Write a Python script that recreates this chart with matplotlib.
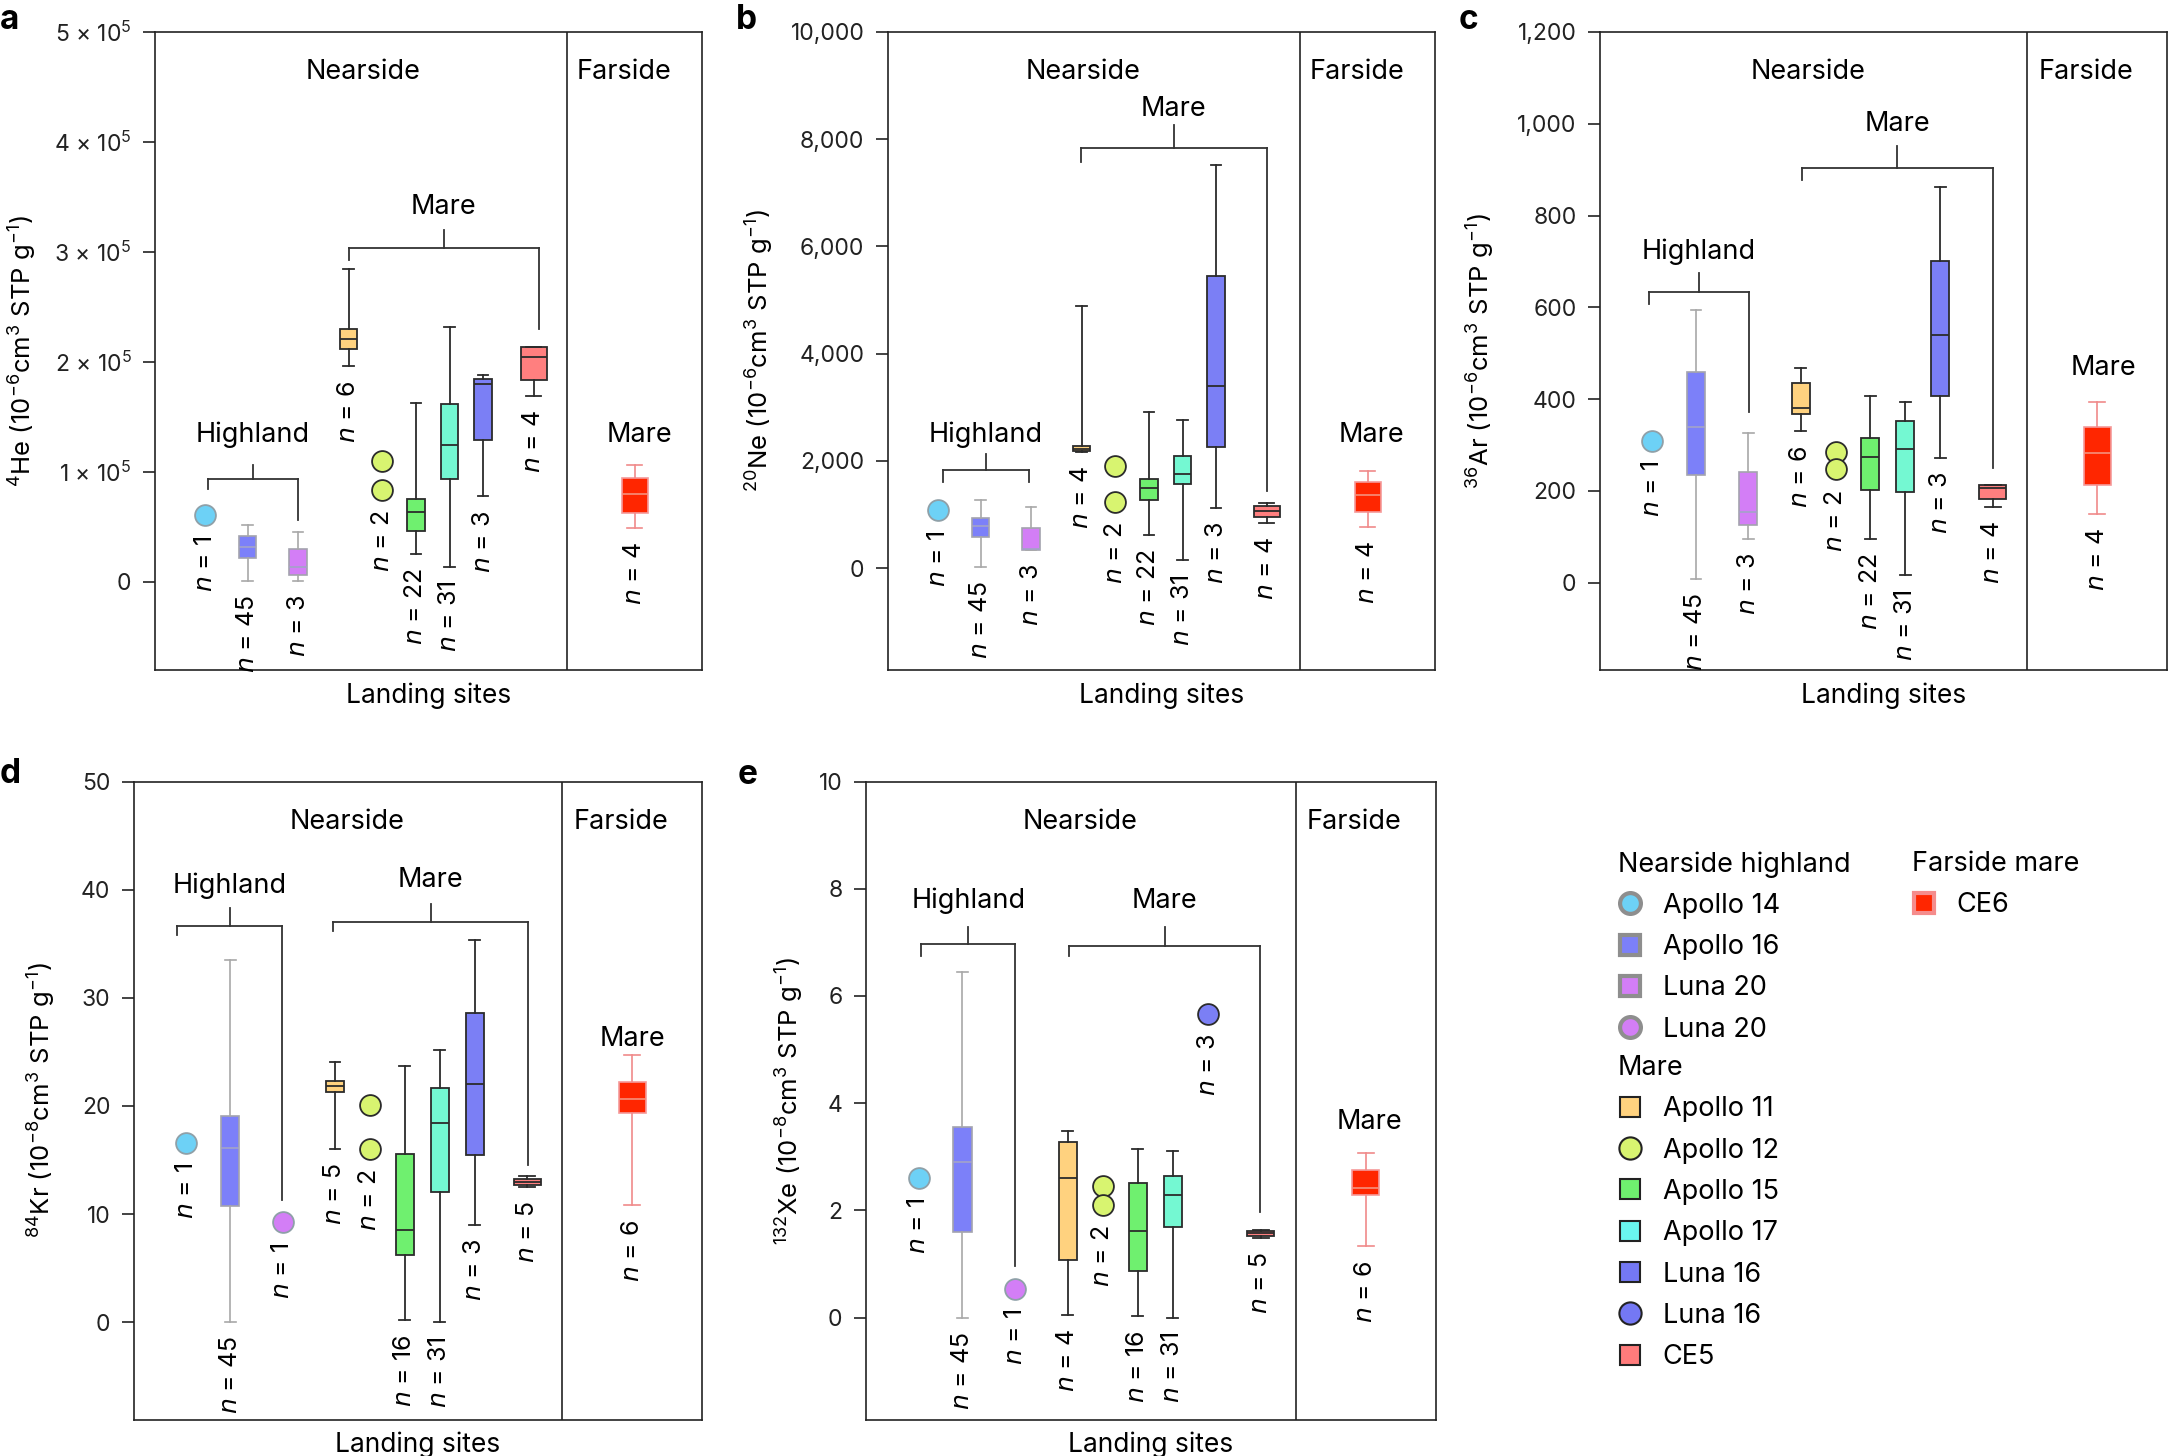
import numpy as np
import matplotlib
matplotlib.use('Agg')
import matplotlib.pyplot as plt
from matplotlib.ticker import FixedLocator, FuncFormatter
from matplotlib.lines import Line2D

plt.rcParams['font.family'] = ['Inter', 'DejaVu Sans']
plt.rcParams['mathtext.fontset'] = 'custom'
plt.rcParams['mathtext.rm'] = 'Inter'
plt.rcParams['mathtext.it'] = 'DejaVu Sans:italic'
plt.rcParams['mathtext.bf'] = 'Inter:bold'

nan = np.nan

# ---- sites (same order in every panel) ----
sites = ['Apollo 14', 'Apollo 16', 'Luna 20', 'Apollo 11', 'Apollo 12',
         'Apollo 15', 'Apollo 17', 'Luna 16', 'CE5', 'CE6']
site_group = ['hl', 'hl', 'hl', 'mare', 'mare', 'mare', 'mare', 'mare', 'mare', 'far']
site_colors = ['#6DD1F6', '#7C80F9', '#D37EF6', '#FFD27F', '#D8F470',
               '#6FF06F', '#74F8D2', '#7B7FF5', '#FF7F7F', '#FF2600']

# ---- a: 4He ----
he_n = [1, 45, 3, 6, 2, 22, 31, 3, 4, 4]
he_lo = [nan, 800, 800, 196000, nan, 25200, 14000, 78000, 168800, 48800]
he_q1 = [nan, 21600, 6800, 211600, nan, 46000, 93200, 129200, 183200, 62800]
he_med = [nan, 31600, 14000, 220800, nan, 63600, 124800, 180000, 204800, 80000]
he_q3 = [nan, 41600, 29600, 230000, nan, 75600, 162000, 184400, 213600, 94800]
he_hi = [nan, 52000, 45200, 284800, nan, 162800, 231600, 188400, 214000, 106800]
he_pts = [[60800], [], [], [], [110000, 83600], [], [], [], [], []]

# ---- b: 20Ne ----
ne_n = [1, 45, 3, 4, 2, 22, 31, 3, 4, 4]
ne_lo = [nan, 25, 344, 2172, nan, 623, 156, 1123, 836, 762]
ne_q1 = [nan, 574, 344, 2189, nan, 1270, 1574, 2254, 951, 1049]
ne_med = [nan, 787, 360, 2230, nan, 1492, 1762, 3402, 1057, 1369]
ne_q3 = [nan, 943, 750, 2279, nan, 1656, 2090, 5451, 1156, 1615]
ne_hi = [nan, 1262, 1148, 4893, nan, 2910, 2754, 7516, 1221, 1811]
ne_pts = [[1082], [], [], [], [1902, 1238], [], [], [], [], []]

# ---- c: 36Ar ----
ar_n = [1, 45, 3, 6, 2, 22, 31, 3, 4, 4]
ar_lo = [nan, 9, 95, 330, nan, 95, 16, 272, 166, 150]
ar_q1 = [nan, 234, 125, 367, nan, 203, 197, 406, 182, 212]
ar_med = [nan, 340, 155, 380, nan, 274, 291, 540, 207, 282]
ar_q3 = [nan, 460, 241, 436, nan, 315, 352, 700, 213, 340]
ar_hi = [nan, 595, 327, 468, nan, 408, 394, 863, 213, 394]
ar_pts = [[310], [], [], [], [284, 247], [], [], [], [], []]

# ---- d: 84Kr ----
kr_n = [1, 45, 1, 5, 2, 16, 31, 3, 5, 6]
kr_lo = [nan, 0, nan, 16.0, nan, 0.17, 0, 9.03, 12.5, 10.8]
kr_q1 = [nan, 10.7, nan, 21.3, nan, 6.24, 12.07, 15.5, 12.7, 19.3]
kr_med = [nan, 16.1, nan, 21.8, nan, 8.52, 18.4, 22.0, 13.0, 20.6]
kr_q3 = [nan, 19.1, nan, 22.3, nan, 15.57, 21.7, 28.6, 13.25, 22.2]
kr_hi = [nan, 33.5, nan, 24.05, nan, 23.7, 25.2, 35.3, 13.5, 24.7]
kr_pts = [[16.6], [], [9.24], [], [20.04, 16.03], [], [], [], [], []]

# ---- e: 132Xe ----
xe_n = [1, 45, 1, 4, 2, 16, 31, 3, 5, 6]
xe_lo = [nan, 0, nan, 0.05, nan, 0.03, 0, nan, 1.48, 1.33]
xe_q1 = [nan, 1.6, nan, 1.08, nan, 0.87, 1.69, nan, 1.53, 2.29]
xe_med = [nan, 2.9, nan, 2.6, nan, 1.61, 2.28, nan, 1.57, 2.41]
xe_q3 = [nan, 3.55, nan, 3.285, nan, 2.51, 2.64, nan, 1.61, 2.75]
xe_hi = [nan, 6.45, nan, 3.48, nan, 3.15, 3.11, nan, 1.64, 3.08]
xe_pts = [[2.61], [], [0.536], [], [2.45, 2.11], [], [], [5.67], [], []]

# ---- layout ----
x_pos = [1.5, 2.75, 4.25, 5.75, 6.75, 7.75, 8.75, 9.75, 11.25, 14.25]
x_divider = 12.25
x_max = 16.25
W, H = 2169, 1456

fig = plt.figure(figsize=(W / 100, H / 100), dpi=100)


def px_axes(left, top, right, bottom):
    return fig.add_axes([left / W, 1 - bottom / H, (right - left) / W, (bottom - top) / H])


def bracket(ax, xl, xr, y_bar, y_top, yl_end, yr_end, label, y_text):
    kw = dict(color='#333333', lw=1.3, zorder=2)
    xm = (xl + xr) / 2
    ax.plot([xl, xr], [y_bar, y_bar], **kw)
    ax.plot([xl, xl], [y_bar, yl_end], **kw)
    ax.plot([xr, xr], [y_bar, yr_end], **kw)
    ax.plot([xm, xm], [y_bar, y_top], **kw)
    ax.text(xm, y_text, label, ha='center', va='center', fontsize=19.5)


def draw_panel(ax, n, lo, q1, med, q3, hi, pts):
    for i in range(len(sites)):
        x = x_pos[i]
        c = site_colors[i]
        g = site_group[i]
        if g == 'hl':
            ec, wc, mc, lw = '#A3A3AE', '#A8A8A8', '#A3A3C8', 1.2
        elif g == 'far':
            ec, wc, mc, lw = '#F59A9A', '#F08A8A', '#F5907C', 1.2
        else:
            ec, wc, mc, lw = '#2B2B2B', '#2B2B2B', '#2B2B2B', 1.3
        wide = i >= 8
        if not np.isnan(med[i]):
            stats = [dict(med=med[i], q1=q1[i], q3=q3[i], whislo=lo[i], whishi=hi[i], fliers=[])]
            ax.bxp(stats, positions=[x], widths=0.77 if wide else 0.52,
                   capwidths=0.46 if wide else 0.31, patch_artist=True,
                   showfliers=False, manage_ticks=False,
                   boxprops=dict(facecolor=c, edgecolor=ec, linewidth=lw),
                   whiskerprops=dict(color=wc, linewidth=lw),
                   capprops=dict(color=wc, linewidth=lw),
                   medianprops=dict(color=mc, linewidth=lw))
            bottom, off = lo[i], 10
        else:
            ax.plot([x] * len(pts[i]), pts[i], 'o', ms=15, mfc=c,
                    mec='#8FA0A8' if g == 'hl' else '#2B2B2B', mew=1.3, zorder=4)
            bottom, off = min(pts[i]), 7.5 + 7
        ax.annotate(f'$n$ = {n[i]}', (x, bottom), xytext=(0, -off),
                    textcoords='offset points', rotation=90, ha='center', va='top',
                    fontsize=18)


def style_axes(ax, ylim, ticks, fmt, ylabel, label_x, near_x):
    ax.set_xlim(0, x_max)
    ax.set_ylim(*ylim)
    ax.yaxis.set_major_locator(FixedLocator(ticks))
    ax.yaxis.set_major_formatter(FuncFormatter(fmt))
    ax.tick_params(axis='y', direction='out', length=9, width=1.2, labelsize=16.5,
                   pad=8, colors='#222222')
    ax.tick_params(axis='x', bottom=False, labelbottom=False)
    for s in ax.spines.values():
        s.set_linewidth(1.2)
        s.set_color('#222222')
    ax.axvline(x_divider, color='#222222', lw=1.2)
    ax.set_xlabel('Landing sites', fontsize=19, labelpad=9)
    ax.set_ylabel(ylabel, fontsize=18.5)
    ax.yaxis.set_label_coords(label_x, 0.5)
    tr = ax.get_xaxis_transform()
    ax.text(near_x, 0.937, 'Nearside', transform=tr, ha='center', va='center', fontsize=19.5)
    ax.text(13.92, 0.937, 'Farside', transform=tr, ha='center', va='center', fontsize=19.5)


def sci_fmt(v, _):
    return '0' if v == 0 else f'{int(round(v / 1e5))} × 10$^{{5}}$'


def comma_fmt(v, _):
    return f'{v:,.0f}'


def int_fmt(v, _):
    return f'{v:.0f}'


# a
ax_a = px_axes(155, 32, 702, 670)
draw_panel(ax_a, he_n, he_lo, he_q1, he_med, he_q3, he_hi, he_pts)
style_axes(ax_a, (-0.8e5, 5e5), np.arange(0, 5.01e5, 1e5), sci_fmt,
           r'$^{4}$He (10$^{-6}$cm$^{3}$ STP g$^{-1}$)', -0.214, 6.19)
bracket(ax_a, 1.57, 4.25, 0.936e5, 1.068e5, 0.848e5, 0.568e5, 'Highland', 1.336e5)
bracket(ax_a, 5.75, 11.41, 3.04e5, 3.2e5, 2.928e5, 2.30e5, 'Mare', 3.408e5)
ax_a.text(14.38, 1.336e5, 'Mare', ha='center', va='center', fontsize=19.5)

# b
ax_b = px_axes(888, 32, 1435, 670)
draw_panel(ax_b, ne_n, ne_lo, ne_q1, ne_med, ne_q3, ne_hi, ne_pts)
style_axes(ax_b, (-1900, 10000), np.arange(0, 10001, 2000), comma_fmt,
           r'$^{20}$Ne (10$^{-6}$cm$^{3}$ STP g$^{-1}$)', -0.207, 5.8)
bracket(ax_b, 1.62, 4.2, 1836, 2131, 1598, 1598, 'Highland', 2492)
bracket(ax_b, 5.73, 11.25, 7844, 8270, 7574, 1434, 'Mare', 8557)
ax_b.text(14.35, 2492, 'Mare', ha='center', va='center', fontsize=19.5)

# c
ax_c = px_axes(1600, 32, 2167, 670)
draw_panel(ax_c, ar_n, ar_lo, ar_q1, ar_med, ar_q3, ar_hi, ar_pts)
style_axes(ax_c, (-190, 1200), np.arange(0, 1201, 200), comma_fmt,
           r'$^{36}$Ar (10$^{-6}$cm$^{3}$ STP g$^{-1}$)', -0.183, 5.97)
bracket(ax_c, 1.39, 4.27, 633.5, 674.7, 607.6, 372.8, 'Highland', 720.7)
bracket(ax_c, 5.78, 11.26, 904.7, 952.6, 877.9, 251.1, 'Mare', 998.6)
ax_c.text(14.43, 467.7, 'Mare', ha='center', va='center', fontsize=19.5)

# d
ax_d = px_axes(134, 781.5, 702, 1419.5)
draw_panel(ax_d, kr_n, kr_lo, kr_q1, kr_med, kr_q3, kr_hi, kr_pts)
style_axes(ax_d, (-9, 50), np.arange(0, 51, 10), int_fmt,
           r'$^{84}$Kr (10$^{-8}$cm$^{3}$ STP g$^{-1}$)', -0.136, 6.09)
bracket(ax_d, 1.24, 4.24, 36.6, 38.3, 35.8, 11.3, 'Highland', 40.4)
bracket(ax_d, 5.70, 11.27, 37.05, 38.65, 36.2, 14.5, 'Mare', 40.9)
ax_d.text(14.26, 26.2, 'Mare', ha='center', va='center', fontsize=19.5)

# e
ax_e = px_axes(866, 781.5, 1436, 1419.5)
draw_panel(ax_e, xe_n, xe_lo, xe_q1, xe_med, xe_q3, xe_hi, xe_pts)
style_axes(ax_e, (-1.9, 10), np.arange(0, 10.1, 2), int_fmt,
           r'$^{132}$Xe (10$^{-8}$cm$^{3}$ STP g$^{-1}$)', -0.107, 6.09)
bracket(ax_e, 1.58, 4.26, 6.96, 7.285, 6.74, 0.96, 'Highland', 7.78)
bracket(ax_e, 5.80, 11.23, 6.93, 7.285, 6.74, 1.966, 'Mare', 7.78)
ax_e.text(14.35, 3.64, 'Mare', ha='center', va='center', fontsize=19.5)

# panel letters
for letter, (lx, ly) in zip('abcde', [(0, 29), (736, 29), (1459, 29), (0, 783), (738, 784)]):
    fig.text(lx / W, 1 - ly / H, letter, fontsize=24, fontweight='bold', va='baseline')


# ---- legends ----
def handle(marker, face, edge, mew, ms):
    return Line2D([], [], marker=marker, linestyle='none', ms=ms, mfc=face, mec=edge, mew=mew)


grey = '#8E8E8E'
hl_handles = [handle('o', '#6DD1F6', grey, 3, 15), handle('s', '#7C80F9', grey, 3, 15),
              handle('s', '#D37EF6', grey, 3, 15), handle('o', '#D37EF6', grey, 3, 15)]
hl_labels = ['Apollo 14', 'Apollo 16', 'Luna 20', 'Luna 20']
mare_handles = [handle('s', '#FFD27F', '#222222', 1.5, 15), handle('o', '#D8F470', '#222222', 1.5, 16),
                handle('s', '#6FF06F', '#222222', 1.5, 15), handle('s', '#6AF7EF', '#222222', 1.5, 15),
                handle('s', '#7478F4', '#222222', 1.5, 15), handle('o', '#7478F4', '#222222', 1.5, 16),
                handle('s', '#FF7B7B', '#222222', 1.5, 15)]
mare_labels = ['Apollo 11', 'Apollo 12', 'Apollo 15', 'Apollo 17', 'Luna 16', 'Luna 16', 'CE5']
far_handles = [handle('s', '#FF2600', '#F58C8C', 3, 15)]
far_labels = ['CE6']

leg_kw = dict(loc='upper left', frameon=False, fontsize=19.5, title_fontsize=19.5,
              alignment='left', handlelength=0.9, handletextpad=0.75, labelspacing=0.565,
              borderpad=0, borderaxespad=0)
fig.legend(hl_handles, hl_labels, title='Nearside highland',
           bbox_to_anchor=(1618 / W, 1 - 851 / H), **leg_kw)
fig.legend(mare_handles, mare_labels, title='Mare',
           bbox_to_anchor=(1618 / W, 1 - 1055 / H), **leg_kw)
fig.legend(far_handles, far_labels, title='Farside mare',
           bbox_to_anchor=(1912 / W, 1 - 851 / H), **leg_kw)

fig.savefig('out.png', dpi=100)
